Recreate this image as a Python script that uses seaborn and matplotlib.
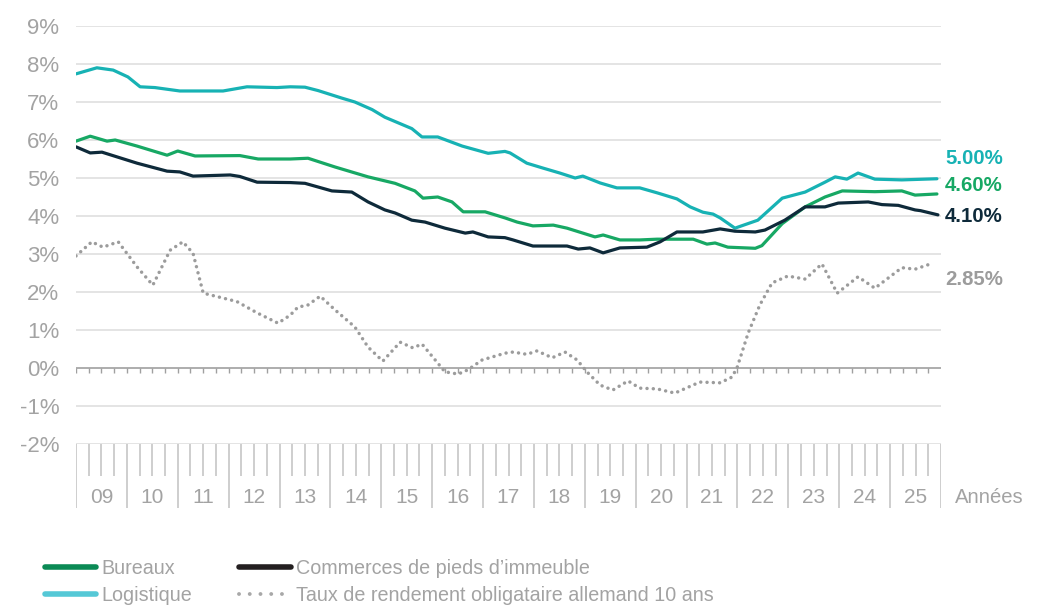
import numpy as np
import seaborn as sns
import matplotlib.pyplot as plt
from matplotlib.lines import Line2D

# values (decimal year, %)
logi_x = [2009.00, 2009.41, 2009.73, 2010.02, 2010.26, 2010.55, 2011.04, 2011.89, 2012.36, 2012.95,
          2013.21, 2013.50, 2013.76, 2014.23, 2014.48, 2014.82, 2015.07, 2015.60, 2015.80, 2016.11,
          2016.59, 2017.10, 2017.43, 2017.53, 2017.86, 2018.18, 2018.51, 2018.81, 2018.96, 2019.30,
          2019.63, 2020.08, 2020.42, 2020.81, 2021.07, 2021.32, 2021.52, 2021.66, 2021.95, 2022.40,
          2022.88, 2023.33, 2023.72, 2023.92, 2024.15, 2024.37, 2024.70, 2025.23, 2025.92]
logi_y = [7.74, 7.90, 7.84, 7.66, 7.40, 7.38, 7.29, 7.29, 7.40, 7.38,
          7.40, 7.39, 7.30, 7.10, 7.00, 6.80, 6.60, 6.30, 6.08, 6.08,
          5.84, 5.65, 5.70, 5.66, 5.39, 5.26, 5.13, 5.00, 5.05, 4.87,
          4.74, 4.74, 4.61, 4.45, 4.24, 4.10, 4.05, 3.95, 3.68, 3.89,
          4.47, 4.63, 4.89, 5.03, 4.97, 5.13, 4.97, 4.95, 4.98]

bur_x = [2009.00, 2009.28, 2009.61, 2009.77, 2010.20, 2010.79, 2011.00, 2011.34, 2012.22, 2012.58,
         2013.21, 2013.56, 2014.09, 2014.74, 2015.27, 2015.66, 2015.82, 2016.11, 2016.39, 2016.61,
         2017.04, 2017.43, 2017.67, 2017.98, 2018.38, 2018.65, 2019.20, 2019.36, 2019.69, 2020.08,
         2020.42, 2021.13, 2021.40, 2021.56, 2021.81, 2022.35, 2022.48, 2022.88, 2023.33, 2023.72,
         2024.06, 2024.70, 2025.23, 2025.49, 2025.92]
bur_y = [5.97, 6.10, 5.97, 6.00, 5.84, 5.60, 5.71, 5.58, 5.59, 5.50,
         5.50, 5.52, 5.29, 5.03, 4.86, 4.66, 4.47, 4.50, 4.37, 4.11,
         4.11, 3.95, 3.84, 3.74, 3.76, 3.68, 3.45, 3.50, 3.37, 3.37,
         3.39, 3.39, 3.26, 3.29, 3.18, 3.15, 3.22, 3.80, 4.24, 4.50,
         4.66, 4.64, 4.66, 4.55, 4.58]

com_x = [2009.00, 2009.28, 2009.51, 2010.20, 2010.79, 2011.04, 2011.30, 2012.03, 2012.22, 2012.56,
         2013.21, 2013.50, 2014.03, 2014.42, 2014.74, 2015.07, 2015.27, 2015.60, 2015.86, 2016.25,
         2016.65, 2016.80, 2017.10, 2017.43, 2017.59, 2017.98, 2018.65, 2018.87, 2019.10, 2019.36,
         2019.69, 2020.22, 2020.48, 2020.81, 2021.32, 2021.66, 2021.95, 2022.35, 2022.54, 2022.93,
         2023.33, 2023.72, 2023.98, 2024.57, 2024.84, 2025.16, 2025.49, 2025.60, 2025.94]
com_y = [5.82, 5.66, 5.68, 5.39, 5.18, 5.16, 5.05, 5.08, 5.04, 4.89,
         4.88, 4.86, 4.66, 4.63, 4.37, 4.16, 4.08, 3.89, 3.84, 3.68,
         3.55, 3.58, 3.45, 3.43, 3.37, 3.21, 3.21, 3.13, 3.16, 3.03,
         3.16, 3.18, 3.32, 3.58, 3.58, 3.66, 3.60, 3.58, 3.63, 3.89,
         4.24, 4.24, 4.34, 4.37, 4.30, 4.28, 4.16, 4.14, 4.03]

bund_x = [2009.00, 2009.31, 2009.53, 2009.83, 2010.20, 2010.51, 2010.85, 2011.10, 2011.30, 2011.50,
          2011.89, 2012.16, 2012.56, 2012.97, 2013.21, 2013.36, 2013.56, 2013.80, 2014.09, 2014.48,
          2014.74, 2015.03, 2015.37, 2015.62, 2015.80, 2016.06, 2016.25, 2016.51, 2016.70, 2016.98,
          2017.43, 2017.59, 2017.86, 2018.06, 2018.36, 2018.61, 2018.85, 2019.04, 2019.30, 2019.55,
          2019.85, 2020.08, 2020.42, 2020.77, 2021.26, 2021.66, 2021.89, 2021.99, 2022.21, 2022.44,
          2022.68, 2022.99, 2023.33, 2023.66, 2023.96, 2024.37, 2024.70, 2025.23, 2025.49, 2025.84]
bund_y = [2.95, 3.32, 3.18, 3.32, 2.66, 2.18, 3.10, 3.32, 3.02, 1.97,
          1.84, 1.75, 1.45, 1.18, 1.39, 1.60, 1.66, 1.89, 1.53, 1.08,
          0.55, 0.18, 0.68, 0.53, 0.63, 0.21, -0.10, -0.16, -0.05, 0.21,
          0.39, 0.42, 0.36, 0.45, 0.27, 0.42, 0.21, -0.10, -0.45, -0.58,
          -0.34, -0.53, -0.55, -0.66, -0.37, -0.39, -0.24, 0.00, 0.92, 1.66,
          2.24, 2.42, 2.34, 2.74, 1.97, 2.40, 2.10, 2.64, 2.60, 2.76]

years = ["09", "10", "11", "12", "13", "14", "15", "16", "17", "18", "19", "20", "21", "22", "23", "24", "25"]
end_labels = ["5.00%", "4.60%", "4.10%", "2.85%"]

TEAL = "#17b2b4"
GREEN = "#17a864"
NAVY = "#0e2a3a"
GREY = "#9c9c9c"
TXT = "#a3a3a3"

sns.set_style("white")
plt.rcParams["font.family"] = ["Liberation Sans", "DejaVu Sans"]

fig = plt.figure(figsize=(10.39, 6.06), dpi=100)
ax = fig.add_axes([76 / 1039, 1 - 444 / 606, 865 / 1039, 418 / 606])

sns.lineplot(x=logi_x, y=logi_y, ax=ax, color=TEAL, linewidth=2.3, solid_joinstyle="round")
sns.lineplot(x=bur_x, y=bur_y, ax=ax, color=GREEN, linewidth=2.3, solid_joinstyle="round")
sns.lineplot(x=com_x, y=com_y, ax=ax, color=NAVY, linewidth=2.3, solid_joinstyle="round")
sns.lineplot(x=bund_x, y=bund_y, ax=ax, color=GREY, linewidth=2.5,
             linestyle=(0, (0.01, 1.8)), dash_capstyle="round")

ax.set_xlim(2009, 2026)
ax.set_ylim(-2, 9)
ax.set_yticks(range(-2, 10))
ax.set_yticklabels([f"{v}%" for v in range(-2, 10)], fontsize=16, color=TXT)
ax.tick_params(axis="y", length=0, pad=12)
ax.set_xticks([])
for s in ax.spines.values():
    s.set_visible(False)
for v in range(-2, 10):
    if v != 0:
        ax.axhline(v, color="#e2e2e2", linewidth=1.3, zorder=0)
ax.axhline(0, color="#a0a0a0", linewidth=1.2, zorder=1)
ax.vlines(np.arange(2009, 2026, 0.25), -0.12, 0, color="#a0a0a0", linewidth=1.0)
ax.set_xlabel("")
ax.set_ylabel("")

# end labels
lab_y = [5.5, 4.79, 4.0, 2.32]
lab_c = [TEAL, GREEN, NAVY, GREY]
for t, yy, c in zip(end_labels, lab_y, lab_c):
    ax.text(2026.08, yy, t, color=c, fontsize=14.7, fontweight="bold", va="center", ha="left", clip_on=False)

# ruler under the chart
rx = fig.add_axes([76 / 1039, 1 - 508 / 606, 865 / 1039, 64 / 606], sharex=ax)
rx.set_ylim(0, 1)
rx.axis("off")
q = np.arange(2009, 2026, 0.25)
rx.vlines(q[q % 1 != 0], 0.5, 1, color="#c6c6c6", linewidth=1.2)
rx.vlines(np.arange(2009, 2027), 0, 1, color="#c6c6c6", linewidth=1.2)
for i, y in enumerate(years):
    rx.text(2009.5 + i, 0.17, y, ha="center", va="center", fontsize=15, color=TXT)
rx.text(2026.28, 0.17, "Années", ha="left", va="center", fontsize=14.6, color=TXT, clip_on=False)

handles = [
    Line2D([], [], color="#0b8a55", linewidth=4, solid_capstyle="round"),
    Line2D([], [], color="#55c8d6", linewidth=4, solid_capstyle="round"),
    Line2D([], [], color="#231f20", linewidth=4, solid_capstyle="round"),
    Line2D([], [], color="#a8a8a8", linewidth=2.8, linestyle=(0, (0.01, 2.75)), dash_capstyle="round"),
]
labels = ["Bureaux", "Logistique", "Commerces de pieds d’immeuble",
          "Taux de rendement obligataire allemand 10 ans"]
fig.legend(handles, labels, loc="upper left", bbox_to_anchor=(45 / 1039, 1 - 559 / 606),
           ncol=2, frameon=False, fontsize=14.2, labelcolor=TXT, handlelength=2.6,
           handletextpad=0.25, columnspacing=2.4, labelspacing=0.4, borderpad=0, borderaxespad=0)

fig.savefig("out.png", dpi=100)
